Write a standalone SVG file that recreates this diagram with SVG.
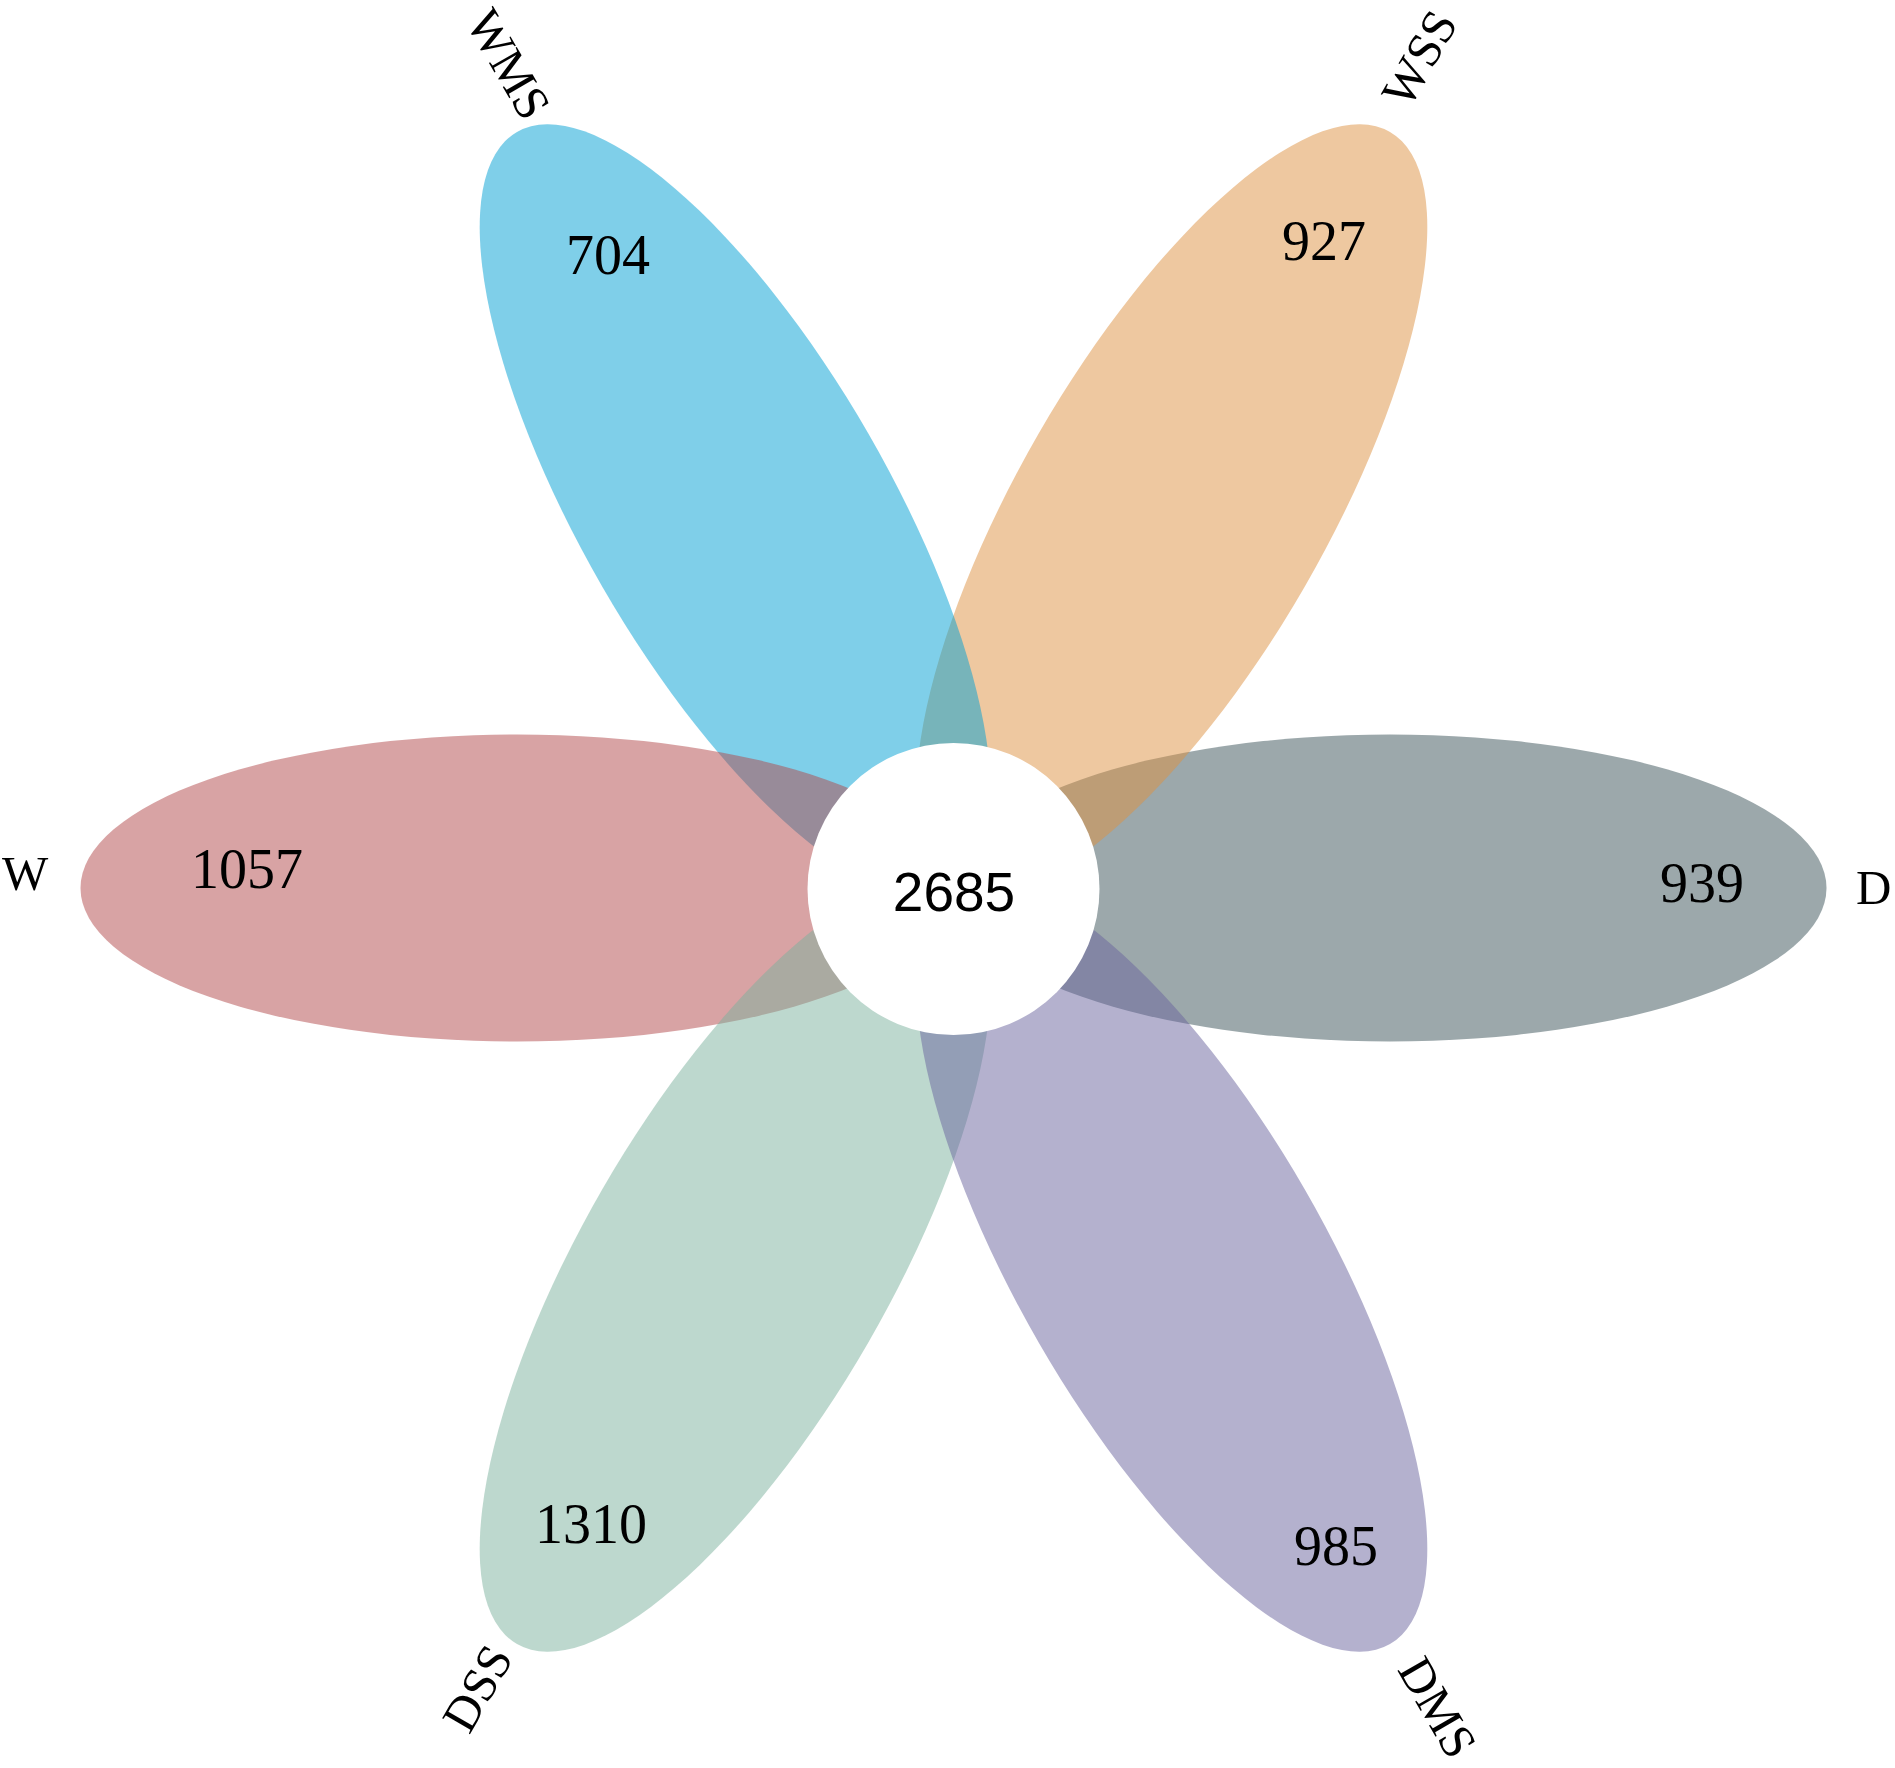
<svg xmlns="http://www.w3.org/2000/svg" width="1895" height="1768" viewBox="0 0 1895 1768">
<style>
.petal{opacity:0.5}
.num{font-family:"Liberation Serif","Times New Roman",serif;font-size:56px;fill:#000;text-anchor:middle}
.lab{font-family:"Liberation Serif","Times New Roman",serif;font-size:49px;fill:#000;text-anchor:middle}
.side{text-anchor:start}
.core{font-family:"Liberation Sans",Arial,sans-serif;font-size:55px;fill:#000;text-anchor:middle}
</style>
<rect width="1895" height="1768" fill="#fff"/>
<g id="petals" transform="translate(953.5 888)">
  <g id="D"><ellipse class="petal" cx="436.5" cy="0" rx="436.5" ry="153.5" fill="#395157"/></g>
  <g id="WSS"><ellipse class="petal" cx="436.5" cy="0" rx="436.5" ry="153.5" fill="#DD9141" transform="rotate(-60)"/></g>
  <g id="WMS"><ellipse class="petal" cx="436.5" cy="0" rx="436.5" ry="153.5" fill="#009FD3" transform="rotate(-120)"/></g>
  <g id="W"><ellipse class="petal" cx="436.5" cy="0" rx="436.5" ry="153.5" fill="#B14749" transform="rotate(180)"/></g>
  <g id="DSS"><ellipse class="petal" cx="436.5" cy="0" rx="436.5" ry="153.5" fill="#7BB19D" transform="rotate(120)"/></g>
  <g id="DMS"><ellipse class="petal" cx="436.5" cy="0" rx="436.5" ry="153.5" fill="#69639D" transform="rotate(60)"/></g>
</g>
<g id="core">
  <circle cx="953.5" cy="889" r="146" fill="#fff"/>
  <text class="core" x="954" y="911">2685</text>
</g>
<g id="counts">
  <text class="num" x="608" y="274">704</text>
  <text class="num" x="1324" y="260">927</text>
  <text class="num" x="247" y="888">1057</text>
  <text class="num" x="1702" y="902">939</text>
  <text class="num" x="591" y="1543">1310</text>
  <text class="num" x="1336" y="1565">985</text>
</g>
<g id="labels">
  <text class="lab side" x="2" y="890">W</text>
  <text class="lab side" x="1856" y="904">D</text>
  <text class="lab" transform="translate(509 64) rotate(60)" x="0" y="17">WMS</text>
  <text class="lab" transform="translate(1419 58) rotate(-60)" x="0" y="17">WSS</text>
  <text class="lab" transform="translate(477 1688) rotate(-60)" x="0" y="17">DSS</text>
  <text class="lab" transform="translate(1438 1707) rotate(60)" x="0" y="17">DMS</text>
</g>
</svg>
